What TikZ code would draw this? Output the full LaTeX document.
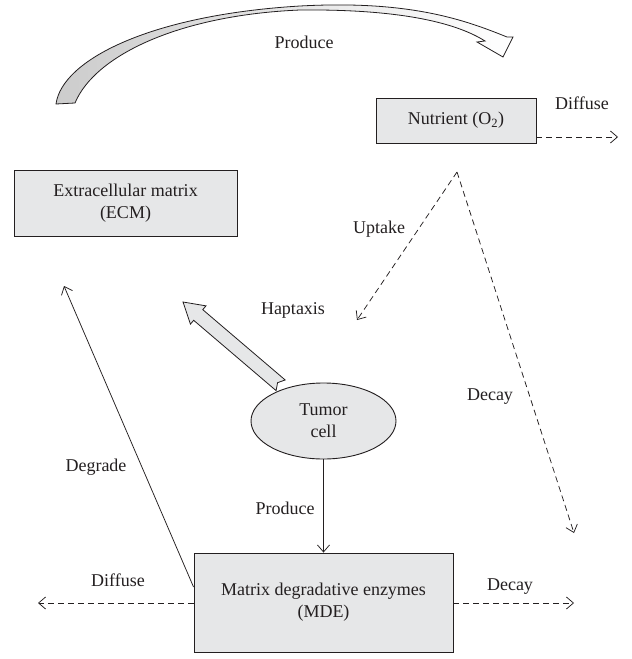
\documentclass[tikz,border=0pt]{standalone}
\usepackage{fontspec}
\setmainfont{Liberation Serif}
\usetikzlibrary{arrows.meta,shapes.geometric,calc}
\definecolor{boxfill}{HTML}{E6E7E8}
\definecolor{ink}{HTML}{231F20}
\begin{document}
\begin{tikzpicture}[x=1pt,y=-1pt,
  every node/.style={font=\fontsize{18}{22}\selectfont, text=ink},
  box/.style={draw=ink, line width=0.9pt, fill=boxfill, align=center, inner sep=0pt},
  lbl/.style={inner sep=0pt},
  tipv/.style={-{Straight Barb[length=7pt,width=12pt]}},
  conn/.style={draw=ink, line width=0.75pt, tipv},
  dconn/.style={conn, dash pattern=on 6pt off 4pt},
  blockarrow/.style={draw=ink, line width=0.8pt, line join=miter}]
\useasboundingbox (0,0) rectangle (632,659);

% nodes
\node[box, minimum width=160pt, minimum height=45pt] (nut) at (456,120.5) {Nutrient (O\textsubscript{2})};
\node[box, minimum width=223pt, minimum height=66pt] (ecm) at (125.5,203) {Extracellular matrix\\(ECM)};
\node[box, ellipse, minimum width=145pt, minimum height=76pt] (tum) at (323.5,421) {Tumor\\cell};
\node[box, minimum width=259pt, minimum height=99pt] (mde) at (323.5,602.5) {Matrix degradative enzymes\\(MDE)};

% free ends
\coordinate (nutD) at (618,137);
\coordinate (apex) at (457,172);
\coordinate (upT) at (357,320);
\coordinate (decT) at (574,533);
\coordinate (degT) at (64,286);
\coordinate (difL) at (38,603);
\coordinate (decR) at (574,603);

% connectors
\draw[dconn] (nut.east |- nutD) -- (nutD);
\draw[dconn] (apex) -- (upT);
\draw[dconn] (apex) -- (decT);
\draw[conn] (tum.south) -- (mde.north);
\draw[conn] ($(mde.west)+(0,-15.5)$) -- (degT);
\draw[dconn] (mde.west |- difL) -- (difL);
\draw[dconn] (mde.east |- decR) -- (decR);

% haptaxis block arrow
\coordinate (hT) at ($(tum.145)+(1,-5)$);
\coordinate (hP) at (183,302);
\coordinate (hB) at ($(hP)!20pt!(hT)$);
\draw[blockarrow, fill=boxfill]
  ($(hT)!7pt!90:(hP)$) -- ($(hB)!7pt!90:(hP)$) -- ($(hB)!12pt!90:(hP)$) -- (hP)
  -- ($(hB)!12pt!-90:(hP)$) -- ($(hB)!7pt!-90:(hP)$) -- ($(hT)!7pt!-90:(hP)$)
  -- ($(hT)!4pt!(hP)$) -- cycle;

% produce curved ribbon arrow
\draw[blockarrow, left color=black!20, middle color=white, right color=white]
  (56,104) .. controls (62,60) and (150,15) .. (300,6)
  .. controls (410,0) and (465,20) .. (507,37)
  -- (513,37) -- (503,57) -- (477,42) -- (485,41)
  .. controls (458,24) and (405,9) .. (300,10)
  .. controls (180,15) and (95,55) .. (75,103) -- cycle;

% labels
\node[lbl] (lprod1) at (304,42) {Produce};
\node[lbl] (ldif1) at (582,103) {Diffuse};
\node[lbl] (lupt) at (379,229) {Uptake};
\node[lbl] (lhap) at (293,310) {Haptaxis};
\node[lbl] (ldec1) at (490,397) {Decay};
\node[lbl] (ldeg) at (96,467) {Degrade};
\node[lbl] (lprod2) at (285,508) {Produce};
\node[lbl] (ldif2) at (118,580) {Diffuse};
\node[lbl] (ldec2) at (510,587) {Decay};
\end{tikzpicture}
\end{document}
